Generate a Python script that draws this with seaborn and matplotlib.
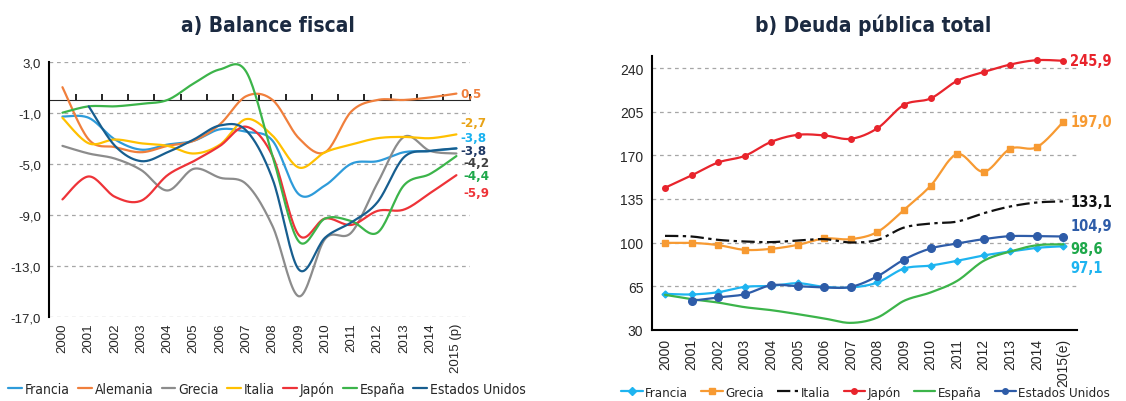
import numpy as np
import pandas as pd
import seaborn as sns
import matplotlib.pyplot as plt
from matplotlib.lines import Line2D

# ---- data ----
years = list(range(2000, 2016))
fiscal_labels = [str(y) for y in years[:-1]] + ["2015 (p)"]
debt_labels = [str(y) for y in years[:-1]] + ["2015(e)"]

# a) Balance fiscal (% PIB)
bal_francia = [-1.3, -1.4, -3.1, -3.9, -3.5, -3.2, -2.3, -2.5, -3.2, -7.4, -6.7, -5.0, -4.8, -4.1, -4.0, -3.8]
bal_alemania = [1.0, -3.1, -3.7, -4.1, -3.6, -3.2, -1.9, 0.3, 0.0, -3.0, -4.1, -0.9, 0.0, 0.0, 0.2, 0.5]
bal_grecia = [-3.6, -4.2, -4.6, -5.5, -7.1, -5.4, -6.1, -6.6, -9.9, -15.4, -10.9, -10.4, -6.5, -2.9, -4.0, -4.2]
bal_italia = [-1.4, -3.4, -3.1, -3.4, -3.6, -4.2, -3.5, -1.5, -2.8, -5.3, -4.1, -3.5, -3.0, -2.9, -3.0, -2.7]
bal_japon = [-7.8, -6.0, -7.6, -7.9, -5.9, -4.8, -3.6, -2.1, -4.4, -10.6, -9.3, -9.8, -8.7, -8.6, -7.3, -5.9]
bal_espana = [-1.0, -0.5, -0.5, -0.3, 0.0, 1.3, 2.4, 2.2, -4.4, -11.1, -9.3, -9.5, -10.4, -6.7, -5.8, -4.4]
bal_eeuu = [np.nan, -0.5, -3.6, -4.8, -4.1, -3.1, -2.0, -2.4, -6.2, -13.3, -10.8, -9.6, -8.0, -4.5, -4.0, -3.8]

# b) Deuda pública total (% PIB)
deu_francia = [58.9, 58.4, 60.2, 64.5, 65.3, 67.4, 64.5, 64.0, 68.0, 79.2, 81.6, 85.4, 89.7, 92.9, 95.8, 97.1]
deu_grecia = [99.8, 99.8, 98.0, 94.2, 95.0, 98.2, 103.3, 102.8, 108.6, 126.3, 145.6, 171.0, 156.8, 175.3, 176.6, 197.0]
deu_italia = [105.4, 104.9, 102.2, 100.9, 100.4, 101.7, 102.8, 100.1, 102.2, 112.1, 115.3, 116.9, 123.6, 129.0, 132.2, 133.1]
deu_japon = [144.0, 153.9, 164.3, 169.6, 180.9, 186.5, 186.0, 183.3, 191.8, 210.6, 215.7, 229.8, 236.8, 242.9, 246.4, 245.9]
deu_espana = [58.1, 54.6, 51.9, 48.2, 45.8, 42.6, 39.1, 35.6, 39.9, 53.3, 60.0, 69.3, 85.4, 92.9, 97.9, 98.6]
deu_eeuu = [np.nan, 53.3, 56.0, 58.6, 65.8, 65.0, 64.0, 64.5, 73.0, 86.4, 95.3, 99.3, 102.8, 105.2, 105.2, 104.9]


def smooth(xs, ys, n=20):
    # bezier smoothing similar to spreadsheet "smoothed line"
    xs = np.asarray(xs, float)
    ys = np.asarray(ys, float)
    ok = ~np.isnan(ys)
    xs, ys = xs[ok], ys[ok]
    px, py = [], []
    for i in range(len(xs) - 1):
        x0, y0 = xs[max(i - 1, 0)], ys[max(i - 1, 0)]
        x1, y1 = xs[i], ys[i]
        x2, y2 = xs[i + 1], ys[i + 1]
        x3, y3 = xs[min(i + 2, len(xs) - 1)], ys[min(i + 2, len(xs) - 1)]
        c1x, c1y = x1 + (x2 - x0) / 6, y1 + (y2 - y0) / 6
        c2x, c2y = x2 - (x3 - x1) / 6, y2 - (y3 - y1) / 6
        t = np.linspace(0, 1, n, endpoint=(i == len(xs) - 2))
        a, b, c, d = (1 - t) ** 3, 3 * (1 - t) ** 2 * t, 3 * (1 - t) * t ** 2, t ** 3
        px.extend(a * x1 + b * c1x + c * c2x + d * x2)
        py.extend(a * y1 + b * c1y + c * c2y + d * y2)
    return pd.DataFrame({"x": px, "y": py})


sns.set_style("white")
plt.rcParams["font.family"] = ["Liberation Sans", "DejaVu Sans"]
cond = dict(family="DejaVu Sans", stretch="condensed")

fig = plt.figure(figsize=(11.26, 4.02), dpi=100)
idx = np.arange(len(years))

# ---------------- a) Balance fiscal ----------------
ax1 = fig.add_axes([0.0438, 0.2097, 0.3732, 0.6343])
fiscal = [
    ("Francia", bal_francia, "#2E9BDA"),
    ("Alemania", bal_alemania, "#F07F3C"),
    ("Grecia", bal_grecia, "#8C8C8C"),
    ("Italia", bal_italia, "#FFC000"),
    ("Japón", bal_japon, "#EE3338"),
    ("España", bal_espana, "#3CB44A"),
    ("Estados Unidos", bal_eeuu, "#175E8F"),
]
for name, vals, col in fiscal:
    d = smooth(idx, vals)
    sns.lineplot(data=d, x="x", y="y", ax=ax1, color=col, lw=1.6, sort=False, estimator=None)

ax1.set_xlim(-0.5, 15.5)
ax1.set_ylim(-17, 3)
ax1.set_yticks([3, -1, -5, -9, -13, -17])
ax1.set_yticklabels(["3,0", "-1,0", "-5,0", "-9,0", "-13,0", "-17,0"], fontsize=9.5)
ax1.set_xticks(idx)
ax1.set_xticklabels(fiscal_labels, rotation=90, fontsize=9.5)
ax1.tick_params(axis="x", length=0, pad=4)
ax1.tick_params(axis="y", length=4, width=1.2, direction="out", color="black", pad=2)
ax1.grid(axis="y", ls=(0, (3, 3)), color="#A6A6A6", lw=0.9)
for s in ["top", "right", "bottom"]:
    ax1.spines[s].set_visible(False)
ax1.spines["left"].set_color("black")
ax1.spines["left"].set_linewidth(1.5)
ax1.set_xlabel("")
ax1.set_ylabel("")
# axis line crossing at zero
zax = ax1.secondary_xaxis((0 - (-17)) / 20)
zax.set_xticks(np.arange(-0.5, 16, 1))
zax.set_xticklabels([])
zax.tick_params(length=4, width=1.2, direction="out", color="black")
zax.spines["bottom"].set_linewidth(1.5)
zax.spines["bottom"].set_color("black")
ax1.set_title("a) Balance fiscal", fontsize=15, fontweight="bold", **cond,
              color="#1B2A41", pad=22, x=0.52)

fiscal_ends = [
    ("Alemania", bal_alemania, "#F07F3C", 0),
    ("Italia", bal_italia, "#E8A317", 8.2),
    ("Francia", bal_francia, "#19B2F0", 7.6),
    ("Estados Unidos", bal_eeuu, "#1F3864", -1.2),
    ("Grecia", bal_grecia, "#404040", -6.4),
    ("España", bal_espana, "#1EA84A", -13.8),
    ("Japón", bal_japon, "#EE3338", -12.2),
]
for name, vals, col, dy in fiscal_ends:
    v = vals[-1]
    dx = 3 if name not in ("España", "Japón", "Grecia") else 5
    ax1.annotate(f"{v:.1f}".replace(".", ","), xy=(15, v), xytext=(dx, dy),
                 textcoords="offset points", ha="left", va="center", fontsize=9.5,
                 fontweight="bold", color=col, annotation_clip=False, **cond)

h1 = [Line2D([], [], color=c, lw=1.6) for _, _, c in fiscal]
fig.legend(h1, [n for n, _, _ in fiscal], loc="center", bbox_to_anchor=(0.237, 0.03),
           ncol=7, frameon=False, handlelength=1.0, handletextpad=0.2, columnspacing=0.6,
           prop=dict(size=10, **cond))

# ---------------- b) Deuda pública total ----------------
ax2 = fig.add_axes([0.5788, 0.177, 0.3774, 0.682])
debt = [
    ("Francia", deu_francia, "#1EB4F0", "D", 3.5, "-"),
    ("Grecia", deu_grecia, "#F79A32", "s", 5, "-"),
    ("Italia", deu_italia, "#111111", "", 0, (0, (6, 2, 1.5, 2))),
    ("Japón", deu_japon, "#E8242C", "o", 4, "-"),
    ("España", deu_espana, "#3CB44A", "", 0, "-"),
    ("Estados Unidos", deu_eeuu, "#2E5CA8", "o", 5.5, "-"),
]
for name, vals, col, mk, ms, ls in debt:
    d = smooth(idx, vals)
    sns.lineplot(data=d, x="x", y="y", ax=ax2, color=col, lw=1.6, sort=False,
                 estimator=None, linestyle=ls)
    if mk:
        pts = pd.DataFrame({"x": idx, "y": vals}).dropna()
        ax2.plot(pts["x"], pts["y"], ls="none", marker=mk, ms=ms, color=col)

ax2.set_xlim(-0.5, 15.5)
ax2.set_ylim(30, 250)
ax2.set_yticks([30, 65, 100, 135, 170, 205, 240])
ax2.set_yticklabels(["30", "65", "100", "135", "170", "205", "240"], fontsize=10)
ax2.set_xticks(idx)
ax2.set_xticklabels(debt_labels, rotation=90, fontsize=10)
ax2.set_xticks(np.arange(-0.5, 16, 1), minor=True)
ax2.tick_params(axis="x", which="major", length=0, pad=6)
ax2.tick_params(axis="x", which="minor", length=4, width=1.2, direction="out", color="black")
ax2.tick_params(axis="y", length=4, width=1.2, direction="out", color="black", pad=2)
ax2.grid(axis="y", ls=(0, (3, 3)), color="#A6A6A6", lw=0.9)
ax2.set_axisbelow(True)
for s in ["top", "right"]:
    ax2.spines[s].set_visible(False)
for s in ["left", "bottom"]:
    ax2.spines[s].set_color("black")
    ax2.spines[s].set_linewidth(1.5)
ax2.set_xlabel("")
ax2.set_ylabel("")
ax2.set_title("b) Deuda pública total", fontsize=15, fontweight="bold", **cond,
              color="#1B2A41", pad=18, x=0.52)

debt_ends = [
    (deu_japon, "#E8242C", 0),
    (deu_grecia, "#F79A32", 0),
    (deu_italia, "#111111", 0),
    (deu_eeuu, "#2E5CA8", 8),
    (deu_espana, "#1EA84A", -3),
    (deu_francia, "#1EB4F0", -15),
]
for vals, col, dy in debt_ends:
    v = vals[-1]
    ax2.annotate(f"{v:.1f}".replace(".", ","), xy=(15, v), xytext=(5, dy),
                 textcoords="offset points", ha="left", va="center", fontsize=10.5,
                 fontweight="bold", color=col, annotation_clip=False, **cond)

h2 = [Line2D([], [], color=c, lw=1.6, ls=ls, marker=mk if mk else None, ms=4)
      for _, _, c, mk, _, ls in debt]
fig.legend(h2, [d[0] for d in debt], loc="center", bbox_to_anchor=(0.769, 0.022),
           ncol=6, frameon=False, handlelength=1.6, handletextpad=0.2, columnspacing=1.0,
           prop=dict(size=9.5, **cond))

fig.savefig("out.png", dpi=100)
